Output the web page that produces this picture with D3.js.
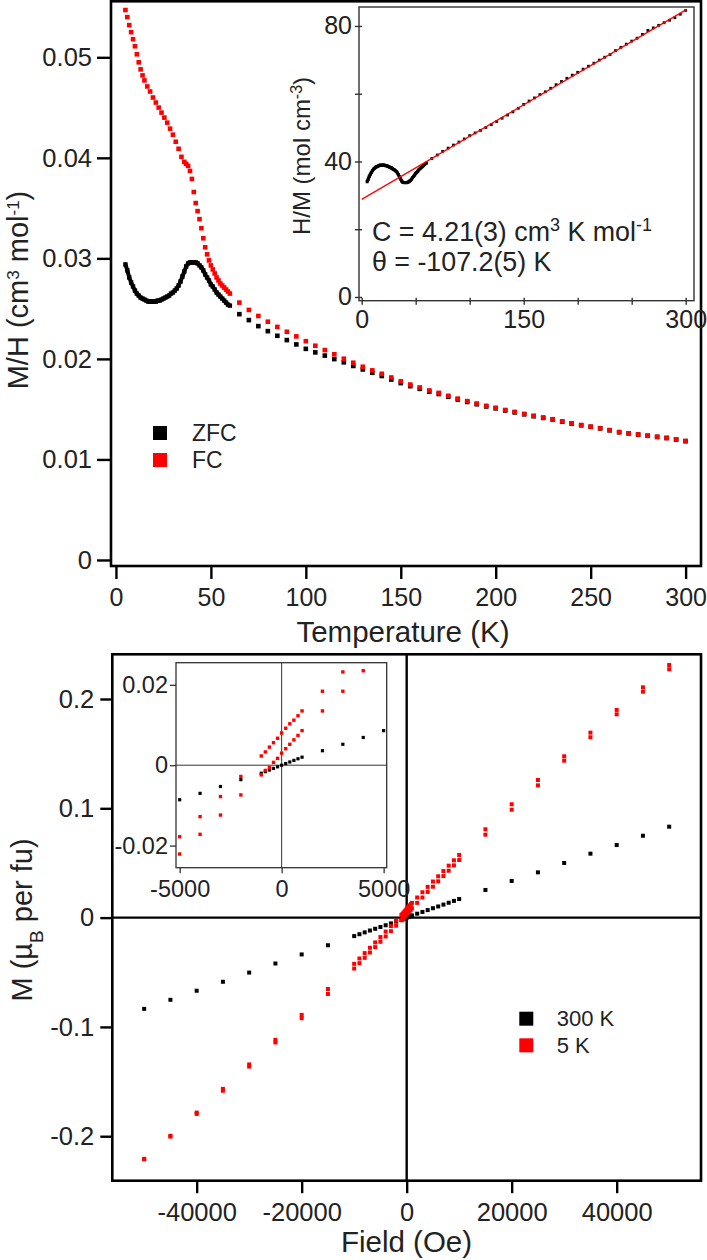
<!DOCTYPE html>
<html>
<head>
<meta charset="utf-8">
<script src="https://cdn.jsdelivr.net/npm/d3@7"></script>
<style>
  body { margin: 0; background: #fff; }
  svg { display: block; font-family: "Liberation Sans", Arial, sans-serif; }
</style>
</head>
<body>
<svg id="fig" width="707" height="1260"></svg>
<script>
// ---- M/H vs T : low temperature (dense) part ----
var tZfcLow = [5,6,7,8,9,10,11,12,13,14,15,16,17,18,19,20,21,22,23,24,25,26,27,28,29,30,
  31,32,33,34,35,36,37,38,39,40,41,42,43,44,45,46,47,48,49,50,51,52,53,54,55,56,57,58,59,60];
var zfcLow = [0.0294,0.0288,0.0281,0.0276,0.0272,0.0268,0.0265,0.0263,0.0261,0.0260,
  0.0259,0.0258,0.0257,0.0257,0.0257,0.0257,0.0257,0.0258,0.0258,0.0259,
  0.0260,0.0261,0.0262,0.0263,0.0265,0.0266,0.0268,0.0270,0.0273,0.0277,
  0.0282,0.0287,0.0292,0.0295,0.0296,0.0296,0.0296,0.0296,0.0295,0.0293,
  0.0291,0.0288,0.0284,0.0281,0.0278,0.0274,0.0272,0.0269,0.0266,0.0264,
  0.0262,0.0260,0.0258,0.0256,0.0254,0.0253];
var tFcLow = [5,6,7,8,9,10,11,12,13,14,15,16.5,18,19.5,21,22.5,24,25.5,27,28.5,30,31.5,33,34.5,
  36,37,38,39,40,41,42,43,44,45,46,47,48,49,50,51,52,53,54,55,56,57,58,59,60];
var fcLow = [0.0547,0.0540,0.0532,0.0525,0.0518,0.0511,0.0503,0.0495,0.0488,0.0482,0.0477,
  0.0471,0.0466,0.0460,0.0455,0.0450,0.0445,0.0440,0.0435,0.0429,0.0423,0.0416,0.0409,0.0401,
  0.0396,0.0394,0.0392,0.0387,0.0379,0.0366,0.0355,0.0347,0.0339,0.0330,0.0320,0.0311,
  0.0304,0.0298,0.0293,0.0289,0.0285,0.0281,0.0278,0.0275,0.0273,0.0271,0.0269,0.0267,0.0265];

// ---- M/H vs T : 5 K steps above 60 K ----
var tHigh = [65,70,75,80,85,90,95,100,105,110,115,120,125,130,135,140,145,150,155,160,
  165,170,175,180,185,190,195,200,205,210,215,220,225,230,235,240,245,250,255,260,
  265,270,275,280,285,290,295,300];
var fcHigh = [0.02560,0.02487,0.02427,0.02370,0.02318,0.02270,0.02224,0.02176,0.02131,0.02088,
  0.02046,0.02002,0.01962,0.01922,0.01886,0.01852,0.01815,0.01777,0.01745,0.01716,
  0.01686,0.01662,0.01633,0.01605,0.01580,0.01556,0.01533,0.01514,0.01492,0.01473,
  0.01453,0.01434,0.01417,0.01400,0.01378,0.01360,0.01342,0.01326,0.01311,0.01292,
  0.01272,0.01260,0.01248,0.01236,0.01225,0.01214,0.01199,0.01183];
var zfcHigh = [0.02445,0.02386,0.02326,0.02276,0.02230,0.02187,0.02144,0.02100,0.02065,0.02033,
  0.01998,0.01966,0.01930,0.01895,0.01862,0.01830,0.01795,0.01759,0.01729,0.01702,
  0.01674,0.01651,0.01623,0.01596,0.01572,0.01549,0.01527,0.01508,0.01487,0.01468,
  0.01449,0.01430,0.01413,0.01397,0.01375,0.01357,0.01340,0.01324,0.01309,0.01290,
  0.01271,0.01259,0.01247,0.01235,0.01224,0.01213,0.01198,0.01182];

// Curie-Weiss fit line in the inset (end points)
var fitT = [0, 301];
var fitHM = [28.8, 84.9];

// ---- M vs H ----
var fields = [-50000,-45000,-40000,-35000,-30000,-25000,-20000,-15000,
  -10000,-9000,-8000,-7000,-6000,-5000,-4000,-3000,-2000,-1000,
  -800,-600,-400,-200,0,200,400,600,800,
  1000,2000,3000,4000,5000,6000,7000,8000,9000,10000,
  15000,20000,25000,30000,35000,40000,45000,50000];
var m300 = [-0.0835,-0.0752,-0.0669,-0.0587,-0.0503,-0.0420,-0.0337,-0.0253,
  -0.0169,-0.0152,-0.0135,-0.0118,-0.0102,-0.0086,-0.0070,-0.0053,-0.0036,-0.0020,
  -0.0016,-0.0012,-0.0008,-0.0004,0.0000,0.0004,0.0008,0.0012,0.0016,
  0.0020,0.0036,0.0052,0.0069,0.0086,0.0102,0.0119,0.0136,0.0153,0.0170,
  0.0253,0.0335,0.0414,0.0500,0.0585,0.0664,0.0749,0.0832];
var m5Down = [-0.2207,-0.1996,-0.1784,-0.1567,-0.1343,-0.1118,-0.0890,-0.0653,
  -0.0423,-0.0374,-0.0325,-0.0276,-0.0227,-0.0178,-0.0128,-0.0078,-0.0028,0.0023,
  0.0033,0.0045,0.0056,0.0067,0.0080,0.0092,0.0103,0.0112,0.0123,
  0.0135,0.0184,0.0232,0.0281,0.0330,0.0378,0.0426,0.0475,0.0524,0.0573,
  0.0808,0.1037,0.1259,0.1476,0.1692,0.1900,0.2107,0.2311];
var m5Up = [-0.2211,-0.2004,-0.1796,-0.1584,-0.1363,-0.1142,-0.0920,-0.0699,
  -0.0466,-0.0417,-0.0368,-0.0319,-0.0270,-0.0221,-0.0172,-0.0124,-0.0074,-0.0024,
  -0.0013,-0.0006,0.0007,0.0017,0.0030,0.0041,0.0052,0.0063,0.0074,
  0.0086,0.0135,0.0184,0.0235,0.0283,0.0332,0.0380,0.0429,0.0478,0.0527,
  0.0759,0.0987,0.1210,0.1436,0.1650,0.1860,0.2067,0.2272];

(function() {
  var RED = "#ff0000", INK = "#222";

  var svg = d3.select("#fig");

  function zip(xs, ys) {
    return xs.map(function(x, i) { return [x, ys[i]]; });
  }

  function squares(g, pts, sx, sy, size, color) {
    g.selectAll(null)
      .data(pts)
      .enter().append("rect")
      .attr("x", function(d) { return sx(d[0]) - size / 2; })
      .attr("y", function(d) { return sy(d[1]) - size / 2; })
      .attr("width", size)
      .attr("height", size)
      .attr("fill", color);
  }

  function styleAxis(g, fs, sw) {
    g.select(".domain").remove();
    g.selectAll(".tick line").attr("stroke", "#000").attr("stroke-width", sw);
    g.selectAll(".tick text").attr("fill", INK).style("font-size", fs + "px")
      .style("font-family", "'Liberation Sans', Arial, sans-serif");
  }

  function fmtNum(d) {
    return d === 0 ? "0" : String(d);
  }

  // ================= top panel =================
  var xT = d3.scaleLinear().domain([-2.6, 308.1]).range([111, 701]);
  var yT = d3.scaleLinear().domain([-0.0006, 0.0557]).range([566, 0]);

  var gTop = svg.append("g");

  gTop.append("rect")
    .attr("x", 111).attr("y", 1.3).attr("width", 590).attr("height", 564.7)
    .attr("fill", "none").attr("stroke", "#000").attr("stroke-width", 2.6);

  var yAxT = gTop.append("g")
    .attr("transform", "translate(111,0)")
    .call(d3.axisLeft(yT).tickValues([0, 0.01, 0.02, 0.03, 0.04, 0.05])
      .tickSize(14).tickPadding(5).tickFormat(function(d) { return d === 0 ? "0" : d3.format(".2f")(d); }));
  styleAxis(yAxT, 25.5, 2.4);

  var xAxT = gTop.append("g")
    .attr("transform", "translate(0,566)")
    .call(d3.axisBottom(xT).tickValues([0, 50, 100, 150, 200, 250, 300])
      .tickSize(13).tickPadding(9).tickFormat(fmtNum));
  styleAxis(xAxT, 25, 2.4);

  // dense ZFC curve drawn as a thick trace plus its points
  var line = d3.line()
    .x(function(d) { return xT(d[0]); })
    .y(function(d) { return yT(d[1]); });
  gTop.append("path")
    .datum(zip(tZfcLow, zfcLow))
    .attr("d", line)
    .attr("fill", "none").attr("stroke", "#000").attr("stroke-width", 4);
  squares(gTop, zip(tZfcLow, zfcLow), xT, yT, 4.4, "#000");
  squares(gTop, zip(tHigh, zfcHigh), xT, yT, 4.6, "#000");
  squares(gTop, zip(tFcLow, fcLow), xT, yT, 4.6, RED);
  squares(gTop, zip(tHigh, fcHigh), xT, yT, 4.6, RED);

  // legend
  var legT = [["ZFC", "#000"], ["FC", RED]];
  legT.forEach(function(d, i) {
    gTop.append("rect").attr("x", 153).attr("y", 426 + i * 27).attr("width", 14).attr("height", 14)
      .attr("fill", d[1]);
    gTop.append("text").attr("x", 192).attr("y", 441 + i * 27)
      .style("font-size", "23px").attr("fill", INK).text(d[0]);
  });

  // axis titles
  gTop.append("text")
    .attr("transform", "translate(27.5,290) rotate(-90)")
    .attr("text-anchor", "middle").style("font-size", "29px").attr("fill", INK)
    .call(function(t) {
      t.append("tspan").text("M/H (cm");
      t.append("tspan").attr("baseline-shift", "super").style("font-size", "17px").text("3");
      t.append("tspan").text(" mol");
      t.append("tspan").attr("baseline-shift", "super").style("font-size", "17px").text("-1");
      t.append("tspan").text(")");
    });

  gTop.append("text")
    .attr("x", 403).attr("y", 642)
    .attr("text-anchor", "middle").style("font-size", "29.5px").attr("fill", INK)
    .text("Temperature (K)");

  // ---- inset: H/M vs T ----
  var xI = d3.scaleLinear().domain([-2.5, 307.7]).range([359, 694]);
  var yI = d3.scaleLinear().domain([-1.1, 85.6]).range([300.7, 7]);

  var ins = svg.append("g");
  ins.append("rect")
    .attr("x", 359).attr("y", 7).attr("width", 335).attr("height", 293.7)
    .attr("fill", "#fff").attr("stroke", "#333").attr("stroke-width", 1.4);

  var yAxI = ins.append("g")
    .attr("transform", "translate(359,0)")
    .call(d3.axisLeft(yI).tickValues([0, 20, 40, 60, 80]).tickSize(4).tickPadding(3)
      .tickFormat(function(d) { return d % 40 === 0 ? fmtNum(d) : ""; }));
  styleAxis(yAxI, 25, 1.4);
  yAxI.selectAll(".tick line").attr("x1", 3).attr("x2", -4).attr("stroke", "#333");

  var xAxI = ins.append("g")
    .attr("transform", "translate(0,300.7)")
    .call(d3.axisBottom(xI).tickValues([0, 50, 100, 150, 200, 250, 300]).tickSize(4).tickPadding(6)
      .tickFormat(function(d) { return d % 150 === 0 ? fmtNum(d) : ""; }));
  styleAxis(xAxI, 25, 1.4);
  xAxI.selectAll(".tick line").attr("y1", -3).attr("y2", 4).attr("stroke", "#333");

  var invLow = zip(tZfcLow, zfcLow.map(function(v) { return 1 / v; }));
  var invHigh = zip(tHigh, zfcHigh.map(function(v) { return 1 / v; }));
  var lineI = d3.line()
    .x(function(d) { return xI(d[0]); })
    .y(function(d) { return yI(d[1]); });
  ins.append("path").datum(invLow).attr("d", lineI)
    .attr("fill", "none").attr("stroke", "#000").attr("stroke-width", 3.2);
  squares(ins, invLow, xI, yI, 3, "#000");
  squares(ins, invHigh, xI, yI, 2.8, "#000");
  ins.append("path").datum(zip(fitT, fitHM)).attr("d", lineI)
    .attr("fill", "none").attr("stroke", RED).attr("stroke-width", 1.3);

  ins.append("text")
    .attr("transform", "translate(310,156) rotate(-90)")
    .attr("text-anchor", "middle").style("font-size", "24px").attr("fill", INK)
    .call(function(t) {
      t.append("tspan").text("H/M (mol cm");
      t.append("tspan").attr("baseline-shift", "super").style("font-size", "16px").text("-3");
      t.append("tspan").text(")");
    });

  ins.append("text").attr("x", 372).attr("y", 241)
    .style("font-size", "26.8px").attr("fill", INK)
    .call(function(t) {
      t.append("tspan").text("C = 4.21(3) cm");
      t.append("tspan").attr("baseline-shift", "super").style("font-size", "18px").text("3");
      t.append("tspan").text(" K mol");
      t.append("tspan").attr("baseline-shift", "super").style("font-size", "18px").text("-1");
    });
  ins.append("text").attr("x", 372).attr("y", 271)
    .style("font-size", "26.8px").attr("fill", INK)
    .text("\u03b8 = -107.2(5) K");

  // ================= bottom panel =================
  var xB = d3.scaleLinear().domain([-56070, 56060]).range([112.3, 701]);
  var yB = d3.scaleLinear().domain([-0.2407, 0.2409]).range([1180.7, 654.3]);

  var bot = svg.append("g");
  bot.append("rect")
    .attr("x", 112.3).attr("y", 654.3).attr("width", 588.7).attr("height", 526.4)
    .attr("fill", "none").attr("stroke", "#000").attr("stroke-width", 2.6);

  bot.append("line")
    .attr("x1", xB(0)).attr("x2", xB(0)).attr("y1", 654.3).attr("y2", 1180.7)
    .attr("stroke", "#000").attr("stroke-width", 2.4);
  bot.append("line")
    .attr("x1", 112.3).attr("x2", 701).attr("y1", yB(0)).attr("y2", yB(0))
    .attr("stroke", "#000").attr("stroke-width", 2.4);

  var yAxB = bot.append("g")
    .attr("transform", "translate(112.3,0)")
    .call(d3.axisLeft(yB).tickValues([-0.2, -0.1, 0, 0.1, 0.2]).tickSize(12).tickPadding(6)
      .tickFormat(fmtNum));
  styleAxis(yAxB, 25.5, 2.4);

  var xAxB = bot.append("g")
    .attr("transform", "translate(0,1180.7)")
    .call(d3.axisBottom(xB).tickValues([-40000, -20000, 0, 20000, 40000]).tickSize(12.5).tickPadding(10)
      .tickFormat(fmtNum));
  styleAxis(xAxB, 25.5, 2.4);

  squares(bot, zip(fields, m300), xB, yB, 4, "#000");
  squares(bot, zip(fields, m5Down), xB, yB, 4, RED);
  squares(bot, zip(fields, m5Up), xB, yB, 4, RED);

  var legB = [["300 K", "#000"], ["5 K", RED]];
  legB.forEach(function(d, i) {
    bot.append("rect").attr("x", 519.3).attr("y", 1011.7 + i * 26.6).attr("width", 14).attr("height", 14)
      .attr("fill", d[1]);
    bot.append("text").attr("x", 556.7).attr("y", 1026 + i * 26.6)
      .style("font-size", "22px").attr("fill", INK).text(d[0]);
  });

  bot.append("text")
    .attr("transform", "translate(32,920) rotate(-90)")
    .attr("text-anchor", "middle").style("font-size", "29px").attr("fill", INK)
    .call(function(t) {
      t.append("tspan").text("M (\u00b5");
      t.append("tspan").attr("baseline-shift", "sub").style("font-size", "19px").text("B");
      t.append("tspan").text(" per fu)");
    });

  bot.append("text")
    .attr("x", 406.5).attr("y", 1252)
    .attr("text-anchor", "middle").style("font-size", "29.5px").attr("fill", INK)
    .text("Field (Oe)");

  // ---- inset: low field loop ----
  var xBI = d3.scaleLinear().domain([-5180, 5150]).range([176, 386.7]);
  var yBI = d3.scaleLinear().domain([-0.0255, 0.0255]).range([867.7, 662.7]);

  var insB = svg.append("g");
  svg.append("clipPath").attr("id", "clipB")
    .append("rect").attr("x", 176).attr("y", 662.7).attr("width", 210.7).attr("height", 205);

  insB.append("rect")
    .attr("x", 176).attr("y", 662.7).attr("width", 210.7).attr("height", 205)
    .attr("fill", "#fff");
  insB.append("line")
    .attr("x1", xBI(0)).attr("x2", xBI(0)).attr("y1", 662.7).attr("y2", 867.7)
    .attr("stroke", "#333").attr("stroke-width", 1);
  insB.append("line")
    .attr("x1", 176).attr("x2", 386.7).attr("y1", yBI(0)).attr("y2", yBI(0))
    .attr("stroke", "#333").attr("stroke-width", 1);

  var dotsB = insB.append("g").attr("clip-path", "url(#clipB)");
  squares(dotsB, zip(fields, m300), xBI, yBI, 3.2, "#000");
  squares(dotsB, zip(fields, m5Down), xBI, yBI, 3.4, RED);
  squares(dotsB, zip(fields, m5Up), xBI, yBI, 3.4, RED);

  insB.append("rect")
    .attr("x", 176).attr("y", 662.7).attr("width", 210.7).attr("height", 205)
    .attr("fill", "none").attr("stroke", "#333").attr("stroke-width", 1.3);

  var yAxBI = insB.append("g")
    .attr("transform", "translate(176,0)")
    .call(d3.axisLeft(yBI).tickValues([-0.02, 0, 0.02]).tickSize(6).tickPadding(2)
      .tickFormat(fmtNum));
  styleAxis(yAxBI, 23.5, 1.3);
  yAxBI.selectAll(".tick line").attr("stroke", "#333");

  var xAxBI = insB.append("g")
    .attr("transform", "translate(0,867.7)")
    .call(d3.axisBottom(xBI).tickValues([-5000, 0, 5000]).tickSize(5.5).tickPadding(7)
      .tickFormat(fmtNum));
  styleAxis(xAxBI, 23.5, 1.3);
  xAxBI.selectAll(".tick line").attr("stroke", "#333");
})();
</script>
</body>
</html>
